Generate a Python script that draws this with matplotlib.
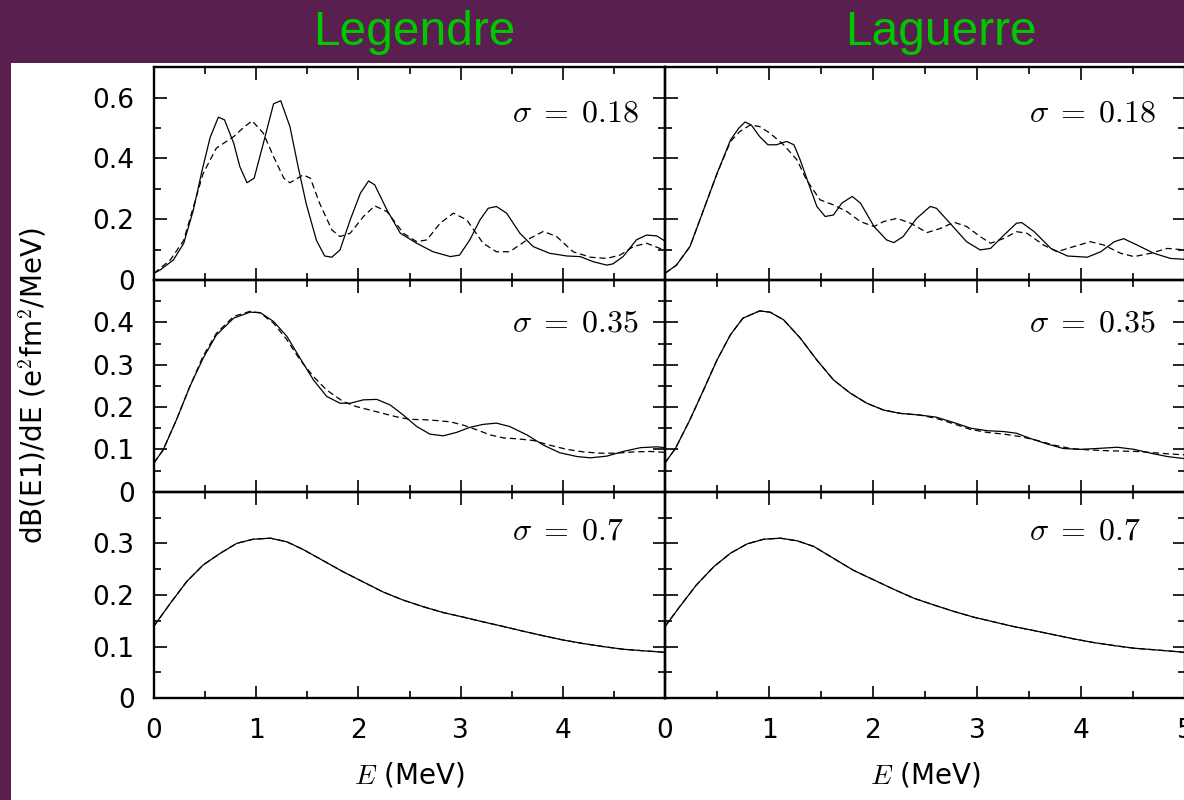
import numpy as np
import matplotlib
matplotlib.use("Agg")
import matplotlib.pyplot as plt
from matplotlib.patches import Rectangle

plt.rcParams['mathtext.fontset'] = 'cm'
plt.rcParams['font.family'] = ['DejaVu Sans']

# ---------------- data ----------------
titles = ["Legendre", "Laguerre"]
sigma_labels = [r"$\sigma\;=\;0.18$", r"$\sigma\;=\;0.35$", r"$\sigma\;=\;0.7$"]
xtick_labels_left = ["0", "1", "2", "3", "4", ""]
xtick_labels_right = ["0", "1", "2", "3", "4", "5"]

# sigma = 0.18, Legendre
tl_solid_E = [0.00, 0.06, 0.19, 0.29, 0.385, 0.47, 0.55, 0.63, 0.69, 0.78, 0.84, 0.91, 0.98, 1.07, 1.17, 1.24,
              1.33, 1.41, 1.49, 1.59, 1.67, 1.74, 1.82, 1.92, 2.02, 2.10, 2.16, 2.28, 2.41, 2.57, 2.73, 2.90,
              2.99, 3.09, 3.19, 3.27, 3.35, 3.45, 3.58, 3.71, 3.87, 4.04, 4.17, 4.30, 4.43, 4.49, 4.59, 4.72,
              4.82, 4.92, 5.00]
tl_solid_v = [0.022, 0.033, 0.066, 0.12, 0.23, 0.36, 0.47, 0.536, 0.527, 0.45, 0.373, 0.32, 0.335, 0.45, 0.58, 0.59,
              0.505, 0.373, 0.25, 0.13, 0.079, 0.075, 0.099, 0.198, 0.286, 0.326, 0.313, 0.23, 0.154, 0.121, 0.093, 0.077,
              0.082, 0.132, 0.198, 0.236, 0.242, 0.22, 0.154, 0.11, 0.088, 0.079, 0.077, 0.06, 0.049, 0.053, 0.077, 0.132,
              0.148, 0.145, 0.128]
tl_dash_E = [0.00, 0.16, 0.29, 0.385, 0.48, 0.61, 0.78, 0.87, 0.96, 1.07, 1.17, 1.27, 1.33, 1.46, 1.53, 1.62, 1.74,
             1.82, 1.92, 2.05, 2.16, 2.28, 2.44, 2.57, 2.67, 2.80, 2.93, 3.06, 3.22, 3.35, 3.48, 3.65, 3.81, 3.94,
             4.10, 4.27, 4.43, 4.56, 4.69, 4.82, 4.95, 5.00]
tl_dash_v = [0.022, 0.066, 0.13, 0.24, 0.35, 0.434, 0.472, 0.50, 0.524, 0.483, 0.406, 0.335, 0.32, 0.346, 0.335, 0.253,
             0.165, 0.143, 0.154, 0.209, 0.244, 0.225, 0.154, 0.126, 0.132, 0.187, 0.22, 0.198, 0.121, 0.093, 0.093,
             0.132, 0.16, 0.143, 0.093, 0.075, 0.071, 0.082, 0.11, 0.121, 0.104, 0.098]

# sigma = 0.18, Laguerre
tr_solid_E = [0.00, 0.11, 0.24, 0.37, 0.50, 0.63, 0.71, 0.77, 0.83, 0.91, 0.99, 1.07, 1.17, 1.24, 1.30, 1.38, 1.46,
              1.54, 1.62, 1.70, 1.80, 1.88, 2.01, 2.13, 2.20, 2.29, 2.42, 2.55, 2.61, 2.74, 2.90, 3.03, 3.13, 3.26,
              3.38, 3.43, 3.55, 3.71, 3.87, 4.06, 4.19, 4.32, 4.41, 4.54, 4.70, 4.86, 5.00]
tr_solid_v = [0.022, 0.049, 0.11, 0.23, 0.35, 0.461, 0.50, 0.52, 0.51, 0.472, 0.445, 0.445, 0.456, 0.445, 0.395, 0.318,
              0.242, 0.209, 0.214, 0.253, 0.275, 0.253, 0.176, 0.132, 0.123, 0.143, 0.203, 0.242, 0.236, 0.187, 0.126,
              0.099, 0.104, 0.148, 0.187, 0.189, 0.159, 0.104, 0.079, 0.075, 0.093, 0.126, 0.136, 0.115, 0.088, 0.071,
              0.068]
tr_dash_E = [0.00, 0.11, 0.24, 0.37, 0.50, 0.63, 0.72, 0.82, 0.91, 1.01, 1.14, 1.27, 1.36, 1.49, 1.62, 1.75, 1.88,
             2.01, 2.10, 2.23, 2.36, 2.52, 2.65, 2.78, 2.90, 3.03, 3.13, 3.26, 3.38, 3.48, 3.64, 3.77, 3.93, 4.09,
             4.22, 4.38, 4.51, 4.67, 4.83, 5.00]
tr_dash_v = [0.022, 0.049, 0.11, 0.23, 0.35, 0.456, 0.489, 0.51, 0.505, 0.483, 0.445, 0.395, 0.33, 0.264, 0.247,
             0.225, 0.192, 0.176, 0.192, 0.203, 0.187, 0.156, 0.170, 0.19, 0.176, 0.143, 0.121, 0.137, 0.159, 0.154,
             0.115, 0.093, 0.11, 0.126, 0.115, 0.088, 0.077, 0.088, 0.104, 0.099]

# sigma = 0.35, Legendre
ml_solid_E = [0.00, 0.09, 0.22, 0.35, 0.48, 0.61, 0.78, 0.94, 1.04, 1.17, 1.30, 1.43, 1.56, 1.69, 1.82, 1.92, 2.05,
              2.18, 2.31, 2.44, 2.57, 2.70, 2.83, 2.96, 3.09, 3.22, 3.35, 3.48, 3.65, 3.81, 3.97, 4.14, 4.27, 4.43,
              4.59, 4.76, 4.92, 5.00]
ml_solid_v = [0.068, 0.099, 0.17, 0.248, 0.315, 0.37, 0.41, 0.424, 0.423, 0.402, 0.367, 0.315, 0.264, 0.225, 0.209,
              0.209, 0.217, 0.218, 0.205, 0.181, 0.154, 0.136, 0.132, 0.14, 0.152, 0.159, 0.162, 0.154, 0.134, 0.11,
              0.092, 0.083, 0.080, 0.084, 0.095, 0.104, 0.106, 0.104]
ml_dash_E = [0.00, 0.09, 0.22, 0.35, 0.48, 0.61, 0.78, 0.94, 1.04, 1.17, 1.30, 1.43, 1.56, 1.69, 1.85, 1.98, 2.11,
             2.24, 2.37, 2.50, 2.64, 2.77, 2.90, 3.03, 3.16, 3.29, 3.42, 3.55, 3.71, 3.87, 4.04, 4.20, 4.36, 4.53,
             4.69, 4.85, 5.00]
ml_dash_v = [0.068, 0.099, 0.17, 0.248, 0.32, 0.374, 0.414, 0.426, 0.422, 0.398, 0.359, 0.311, 0.272, 0.24, 0.213,
             0.201, 0.193, 0.185, 0.177, 0.171, 0.17, 0.168, 0.165, 0.157, 0.146, 0.134, 0.127, 0.125, 0.121, 0.11,
             0.10, 0.094, 0.091, 0.091, 0.094, 0.095, 0.093]

# sigma = 0.35, Laguerre
mr_solid_E = [0.00, 0.10, 0.24, 0.37, 0.50, 0.63, 0.75, 0.91, 1.01, 1.14, 1.30, 1.46, 1.62, 1.78, 1.94, 2.10, 2.26,
              2.45, 2.61, 2.78, 2.94, 3.10, 3.26, 3.38, 3.51, 3.67, 3.83, 3.99, 4.15, 4.35, 4.51, 4.67, 4.83, 5.00]
mr_solid_v = [0.068, 0.102, 0.17, 0.24, 0.311, 0.371, 0.41, 0.427, 0.424, 0.406, 0.363, 0.311, 0.264, 0.233, 0.209,
              0.193, 0.185, 0.181, 0.176, 0.163, 0.15, 0.144, 0.142, 0.138, 0.126, 0.113, 0.102, 0.10, 0.102, 0.105,
              0.10, 0.091, 0.083, 0.078]
mr_dash_E = [0.00, 0.10, 0.24, 0.37, 0.50, 0.63, 0.75, 0.91, 1.01, 1.14, 1.30, 1.46, 1.62, 1.78, 1.94, 2.10, 2.26,
             2.45, 2.61, 2.78, 2.94, 3.10, 3.26, 3.42, 3.58, 3.74, 3.90, 4.06, 4.22, 4.38, 4.54, 4.70, 4.86, 5.00]
mr_dash_v = [0.068, 0.102, 0.17, 0.24, 0.311, 0.371, 0.41, 0.427, 0.424, 0.406, 0.363, 0.311, 0.264, 0.233, 0.209,
             0.193, 0.185, 0.181, 0.173, 0.16, 0.147, 0.14, 0.136, 0.13, 0.121, 0.11, 0.102, 0.099, 0.097, 0.096,
             0.095, 0.092, 0.089, 0.087]

# sigma = 0.7, Legendre (solid and dashed coincide)
bl_E = [0.00, 0.16, 0.32, 0.48, 0.65, 0.81, 0.97, 1.14, 1.30, 1.46, 1.66, 1.85, 2.05, 2.24, 2.44, 2.64, 2.83, 3.03,
        3.22, 3.42, 3.61, 3.81, 4.00, 4.20, 4.40, 4.59, 4.79, 5.00]
bl_v = [0.140, 0.184, 0.226, 0.258, 0.281, 0.30, 0.308, 0.31, 0.303, 0.288, 0.266, 0.245, 0.225, 0.206, 0.19, 0.177,
        0.166, 0.157, 0.148, 0.139, 0.13, 0.121, 0.113, 0.106, 0.10, 0.095, 0.092, 0.089]

# sigma = 0.7, Laguerre (solid and dashed coincide)
br_E = [0.00, 0.14, 0.30, 0.47, 0.63, 0.79, 0.95, 1.11, 1.27, 1.43, 1.62, 1.81, 2.01, 2.20, 2.39, 2.58, 2.78, 2.97,
        3.16, 3.35, 3.55, 3.74, 3.93, 4.12, 4.32, 4.51, 4.70, 5.00]
br_v = [0.139, 0.177, 0.219, 0.255, 0.281, 0.299, 0.308, 0.31, 0.305, 0.294, 0.271, 0.248, 0.229, 0.211, 0.194, 0.181,
        0.168, 0.157, 0.148, 0.139, 0.131, 0.123, 0.115, 0.108, 0.102, 0.097, 0.094, 0.089]

# ---------------- figure ----------------
W, H = 1184, 800
fig = plt.figure(figsize=(W / 100, H / 100), dpi=100)
fig.patch.set_facecolor("white")
purple = "#591f4f"
fig.patches.append(Rectangle((0, 1 - 63 / H), 1, 63 / H, transform=fig.transFigure,
                             facecolor=purple, edgecolor="none", zorder=-5))
fig.patches.append(Rectangle((0, 0), 11 / W, 1, transform=fig.transFigure,
                             facecolor=purple, edgecolor="none", zorder=-5))

col_px = [(154, 665), (665, 1185)]
row_px = [(67.3, 280.0), (280.0, 491.7), (491.7, 698.3)]

data = [
    [(tl_solid_E, tl_solid_v, tl_dash_E, tl_dash_v), (tr_solid_E, tr_solid_v, tr_dash_E, tr_dash_v)],
    [(ml_solid_E, ml_solid_v, ml_dash_E, ml_dash_v), (mr_solid_E, mr_solid_v, mr_dash_E, mr_dash_v)],
    [(bl_E, bl_v, bl_E, bl_v), (br_E, br_v, br_E, br_v)],
]
ylims = [0.7, 0.5, 0.4]
ymajor = [[0, 0.2, 0.4, 0.6], [0, 0.1, 0.2, 0.3, 0.4], [0, 0.1, 0.2, 0.3]]
ymajor_lab = [["0", "0.2", "0.4", "0.6"], ["0", "0.1", "0.2", "0.3", "0.4"], ["0", "0.1", "0.2", "0.3"]]
yminor = [[0.1, 0.3, 0.5], [0.05, 0.15, 0.25, 0.35, 0.45], [0.05, 0.15, 0.25, 0.35]]
sig_off = [54, 51.7, 48]

for r in range(3):
    for c in range(2):
        x0, x1 = col_px[c]
        y0, y1 = row_px[r]
        ax = fig.add_axes([x0 / W, 1 - y1 / H, (x1 - x0) / W, (y1 - y0) / H])
        ax.set_facecolor("none")
        sE, sv, dE, dv = data[r][c]
        ax.plot(dE, dv, color="black", lw=0.9, ls=(0, (5, 3)), zorder=2)
        ax.plot(sE, sv, color="black", lw=0.9, zorder=3)
        ax.set_xlim(0, 5)
        ax.set_ylim(0, ylims[r])
        ax.set_xticks([0, 1, 2, 3, 4, 5])
        ax.set_xticks(np.arange(0.5, 5, 1.0), minor=True)
        ax.set_yticks(ymajor[r])
        ax.set_yticks(yminor[r], minor=True)
        ax.set_yticklabels(ymajor_lab[r])
        if r == 2:
            ax.set_xticklabels(xtick_labels_left if c == 0 else xtick_labels_right)
        else:
            ax.set_xticklabels([])
        ax.tick_params(which="both", direction="in", top=True, right=True, width=1.2,
                       labelsize=19, colors="black")
        ax.tick_params(which="major", length=9)
        ax.tick_params(which="minor", length=5)
        ax.tick_params(axis="y", pad=14)
        ax.tick_params(axis="x", pad=14)
        if c == 1:
            ax.tick_params(axis="y", labelleft=False)
        for sp in ax.spines.values():
            sp.set_linewidth(1.7)
        ax.text(0.70, 1 - sig_off[r] / (y1 - y0), sigma_labels[r], transform=ax.transAxes,
                ha="left", va="baseline", fontsize=23)
        if r == 2:
            ax.text(0.5, (698.3 - 775) / (y1 - y0), r"$E$ (MeV)", transform=ax.transAxes,
                    ha="center", va="center", fontsize=20)

# titles
fig.text(414 / W, 1 - 45 / H, titles[0], ha="center", va="baseline", color="#00c800",
         fontsize=34.5, family=["Liberation Sans", "DejaVu Sans"])
fig.text(941 / W, 1 - 45 / H, titles[1], ha="center", va="baseline", color="#00c800",
         fontsize=34.5, family=["Liberation Sans", "DejaVu Sans"])

# y label
fig.text(33 / W, 1 - 386 / H, r"dB(E1)/dE (e$^2$fm$^2$/MeV)", rotation=90,
         ha="center", va="center", fontsize=20)

fig.savefig("out.png", dpi=100)
